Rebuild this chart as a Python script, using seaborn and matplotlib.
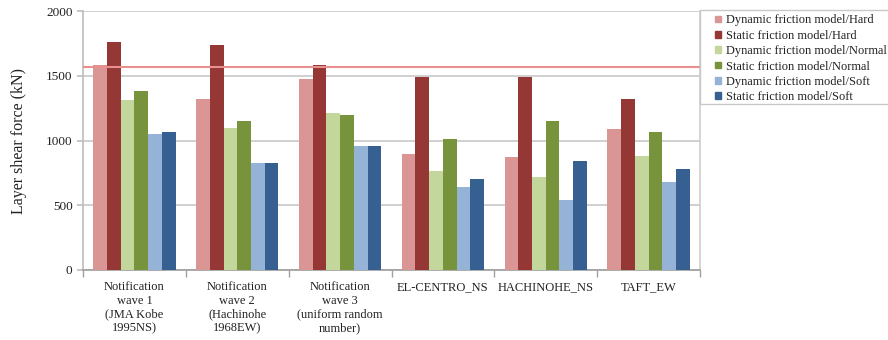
import numpy as np
import pandas as pd
import matplotlib
matplotlib.use("Agg")
import matplotlib.pyplot as plt
import seaborn as sns

categories = ["Notification\nwave 1\n(JMA Kobe\n1995NS)",
              "Notification\nwave 2\n(Hachinohe\n1968EW)",
              "Notification\nwave 3\n(uniform random\nnumber)",
              "EL-CENTRO_NS", "HACHINOHE_NS", "TAFT_EW"]
series = ["Dynamic friction model/Hard", "Static friction model/Hard",
          "Dynamic friction model/Normal", "Static friction model/Normal",
          "Dynamic friction model/Soft", "Static friction model/Soft"]
dyn_hard = [1584, 1319, 1476, 895, 874, 1085]
sta_hard = [1761, 1738, 1581, 1488, 1494, 1321]
dyn_norm = [1314, 1098, 1211, 766, 715, 882]
sta_norm = [1383, 1154, 1200, 1010, 1149, 1064]
dyn_soft = [1051, 825, 959, 640, 537, 676]
sta_soft = [1064, 830, 954, 699, 838, 781]
limit_value = 1571
colors = ["#D99694", "#953735", "#C3D69B", "#77933C", "#95B3D7", "#376092"]

values = [dyn_hard, sta_hard, dyn_norm, sta_norm, dyn_soft, sta_soft]
rows = []
for s, vals in zip(series, values):
    for c, v in zip(categories, vals):
        rows.append({"cat": c, "series": s, "value": v})
df = pd.DataFrame(rows)

sns.set_theme(style="white")
plt.rcParams['font.family'] = ['Liberation Serif', 'DejaVu Serif']

fig = plt.figure(figsize=(8.88, 3.4), dpi=100)
ax = fig.add_axes([83/888, 70/340, 617/888, 259/340])

sns.barplot(data=df, x="cat", y="value", hue="series", palette=colors,
            order=categories, hue_order=series, width=0.8, ax=ax,
            saturation=1, errorbar=None, linewidth=0, zorder=3)

ax.set_ylim(0, 2000)
ax.set_xlim(-0.5, len(categories) - 0.5)
ax.set_yticks([0, 500, 1000, 1500, 2000])
ax.yaxis.grid(True, color="#C8C8C8", linewidth=1.2, zorder=0)
ax.set_axisbelow(True)
ax.axhline(limit_value, color="#E8908F", linewidth=1.5, zorder=4)

ax.spines["top"].set_visible(False)
ax.spines["right"].set_color("#D0D0D0")
ax.spines["left"].set_color("#BFBFBF")
ax.spines["bottom"].set_color("#A0A0A0")

ax.set_xticks(np.arange(len(categories)))
ax.set_xticklabels(categories, fontsize=9, color="#222222", linespacing=1.2)
ax.tick_params(axis="x", length=0, pad=8)
ax.set_xticks(np.arange(len(categories) + 1) - 0.5, minor=True)
ax.tick_params(axis="x", which="minor", length=5, color="#A0A0A0", direction="out", bottom=True)
ax.tick_params(axis="y", labelsize=9.5, length=4, color="#BFBFBF", direction="out", left=True, labelcolor="#222222")
ax.set_xlabel("")
ax.set_ylabel("Layer shear force (kN)", fontsize=11.5, color="#222222", labelpad=14)

ax.get_legend().remove()

# legend box frame (extends past the right edge like the reference)
frame = plt.Rectangle((700/888, 1 - 104/340), 200/888, 94/340, transform=fig.transFigure,
                      facecolor="white", edgecolor="#C8C8C8", linewidth=1.0, zorder=0)
fig.patches.append(frame)

handles = [plt.Rectangle((0, 0), 1, 1, color=c) for c in colors]
leg = fig.legend(handles, series, loc="upper left", bbox_to_anchor=(715/888, 1 - 14.5/340),
                 frameon=False, fontsize=8.9, handlelength=0.45, handleheight=0.45,
                 handletextpad=0.45, labelspacing=0.27, borderpad=0, borderaxespad=0)
for t in leg.get_texts():
    t.set_color("#222222")

fig.savefig("out.png", dpi=100)
